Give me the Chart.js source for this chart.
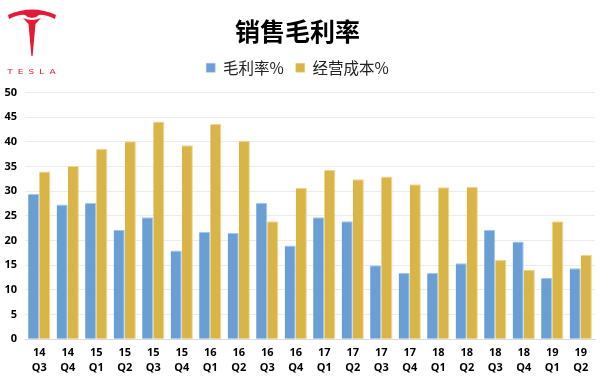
<!DOCTYPE html>
<html>
<head>
<meta charset="utf-8">
<script src="https://cdn.jsdelivr.net/npm/chart.js@4.4.1/dist/chart.umd.min.js"></script>
<style>
    html, body { margin: 0; padding: 0; background: #fff; }
    #wrap { position: relative; width: 600px; height: 380px; }
    #logo { position: absolute; left: 0; top: 0; width: 64px; height: 60px; }
    #logo-text {
        position: absolute; left: 4px; top: 67px; width: 60px;
        font-family: "DejaVu Sans", sans-serif; font-size: 9px; color: #e31937;
        letter-spacing: 5px; text-align: center; transform: scaleY(0.75);
    }
</style>
</head>
<body>
<div id="wrap">
    <canvas id="marginChart" width="600" height="380"></canvas>
    <!-- Tesla logo -->
    <svg id="logo" viewBox="0 0 64 60">
        <path d="M8 15 Q32 4 56 15 L55 19 Q44 14 39 15 Q36 18 32 18 Q28 18 25 15 Q20 14 9 19 Z" fill="#e31937"/>
        <path d="M23 18 Q32 22 41 18 L35.5 24 L32.6 56 L31.4 56 L28.5 24 Z" fill="#e31937"/>
    </svg>
    <div id="logo-text">TESLA</div>
</div>
<script>
// Quarter labels (year / quarter)
const years = ['14','14','15','15','15','15','16','16','16','16','17','17','17','17','18','18','18','18','19','19'];
const quarters = ['Q3','Q4','Q1','Q2','Q3','Q4','Q1','Q2','Q3','Q4','Q1','Q2','Q3','Q4','Q1','Q2','Q3','Q4','Q1','Q2'];

// Series values (%)
const grossMargin = [29.5, 27.3, 27.6, 22.2, 24.7, 18.0, 21.8, 21.6, 27.6, 19.0, 24.7, 23.9, 15.0, 13.4, 13.4, 15.4, 22.2, 19.8, 12.4, 14.4];
const operatingCost = [34.0, 35.1, 38.6, 40.1, 44.1, 39.3, 43.6, 40.2, 23.9, 30.7, 34.3, 32.4, 33.0, 31.4, 30.8, 30.9, 16.1, 14.1, 23.9, 17.1];

const yTicks = [0, 50, 5]; // min, max, step

const labels = years.map((y, i) => [y, quarters[i]]);
const tickFont = { family: '"Open Sans", "Noto Sans", sans-serif', size: 11, weight: 'bold', lineHeight: 1.4 };

// extra room under the legend
const legendSpacer = {
    id: 'legendSpacer',
    beforeInit(chart) {
        const fit = chart.legend.fit;
        chart.legend.fit = function () {
            fit.bind(chart.legend)();
            this.height += 7;
        };
    }
};

new Chart(document.getElementById('marginChart'), {
    type: 'bar',
    data: {
        labels: labels,
        datasets: [{
            label: '毛利率%',
            data: grossMargin,
            backgroundColor: '#6a9fd5',
            borderColor: '#a6c6e8',
            borderWidth: { top: 1, right: 1, left: 0, bottom: 0 },
            categoryPercentage: 0.78,
            barPercentage: 1.0
        }, {
            label: '经营成本%',
            data: operatingCost,
            backgroundColor: '#d9b547',
            borderColor: '#eed88f',
            borderWidth: { top: 1, right: 1, left: 0, bottom: 0 },
            categoryPercentage: 0.78,
            barPercentage: 1.0
        }]
    },
    plugins: [legendSpacer],
    options: {
        responsive: false,
        animation: false,
        layout: { padding: { left: 0, right: 5, top: 6, bottom: -2 } },
        plugins: {
            title: {
                display: true,
                text: '销售毛利率',
                color: '#000',
                font: { family: '"Noto Sans CJK SC", sans-serif', size: 25, weight: 'bold' },
                padding: { top: 10, bottom: 2 }
            },
            legend: {
                display: true,
                labels: {
                    color: '#222',
                    boxWidth: 9,
                    boxHeight: 9,
                    padding: 12,
                    font: { family: '"Noto Sans CJK SC", sans-serif', size: 15.5 }
                }
            },
            tooltip: { enabled: false }
        },
        scales: {
            x: {
                grid: { display: false, drawTicks: false },
                border: { color: '#d9d9d9' },
                ticks: { color: '#000', font: tickFont, maxRotation: 0, autoSkip: false, padding: 6 }
            },
            y: {
                min: yTicks[0],
                max: yTicks[1],
                grid: { color: '#ececec', drawTicks: false },
                border: { display: false },
                ticks: { stepSize: yTicks[2], color: '#000', font: tickFont, padding: 8 },
                afterFit(scale) { scale.width = 25; }
            }
        }
    }
});
</script>
</body>
</html>
